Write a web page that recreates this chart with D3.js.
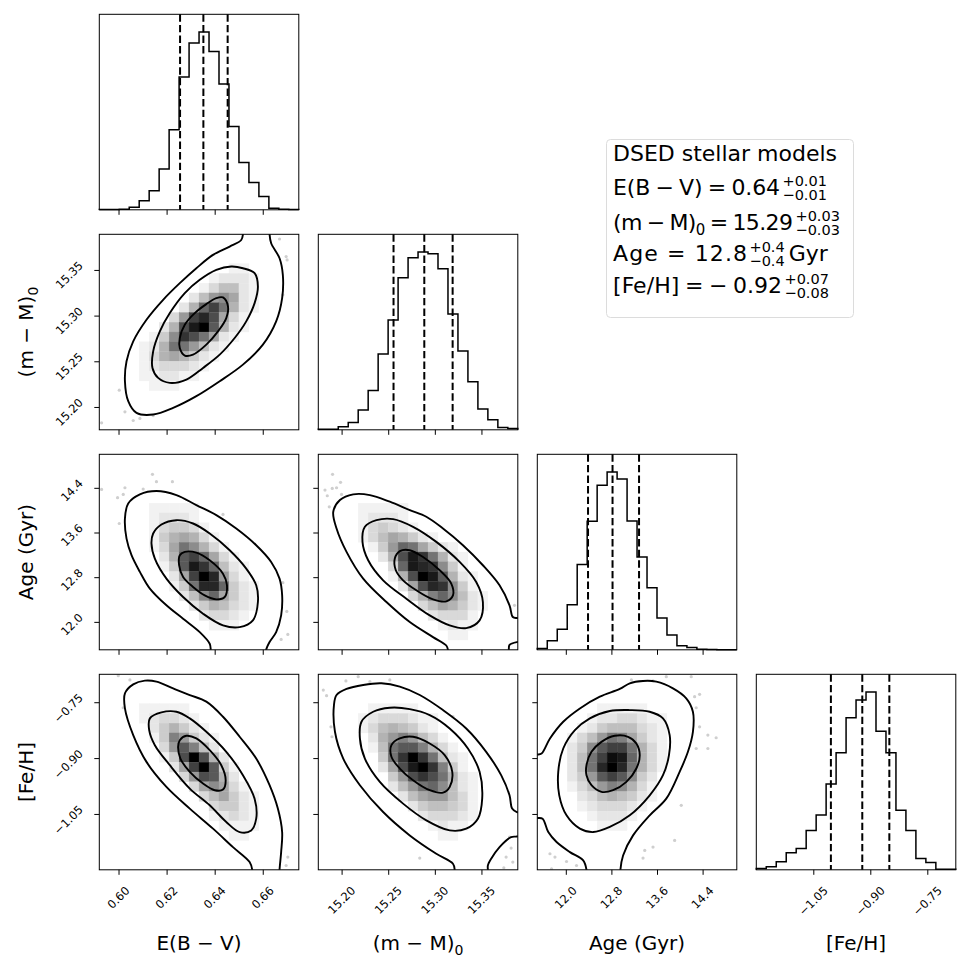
<!DOCTYPE html>
<html><head><meta charset="utf-8">
<script src="https://cdn.jsdelivr.net/npm/d3@7"></script>
<style>
body{margin:0;background:#fff}
svg{display:block}
text{font-family:"DejaVu Sans",sans-serif;fill:#000}
</style>
</head><body>
<svg id="c" width="969" height="969"></svg>
<script>
// ---------------- DATA ----------------
const rangeEBV = [0.592, 0.675];
const rangeDM  = [15.175, 15.389];
const rangeAge = [11.5, 15.0];
const rangeFeH = [-1.2, -0.675];

const ticksEBV = [0.60, 0.62, 0.64, 0.66];
const ticksDM  = [15.20, 15.25, 15.30, 15.35];
const ticksAge = [12.0, 12.8, 13.6, 14.4];
const ticksFeH = [-1.05, -0.90, -0.75];
const tickLabelsEBV = ["0.60","0.62","0.64","0.66"];
const tickLabelsDM  = ["15.20","15.25","15.30","15.35"];
const tickLabelsAge = ["12.0","12.8","13.6","14.4"];
const tickLabelsFeH = ["\u22121.05","\u22120.90","\u22120.75"];

// 1-D histogram counts (20 bins across each range)
const histEBV = [1,1,2,8,27,57,122,240,398,500,533,475,377,250,142,82,40,5,2,1];
const histDM  = [2,2,9,22,59,118,227,329,455,515,532,527,482,347,236,144,62,30,7,4];
const histAge = [4,27,61,134,254,383,491,530,509,384,277,185,95,44,12,7,2,1,0,0];
const histFeH = [4,9,24,51,64,118,164,257,350,455,508,532,415,350,178,118,34,22,2,2];

// 16/50/84 % quantiles
const quantEBV = [0.6256, 0.6353, 0.6454];
const quantDM  = [15.2557, 15.2887, 15.3191];
const quantAge = [12.39, 12.82, 13.285];
const quantFeH = [-1.0037, -0.9211, -0.8499];

// 2-D density grids, 20x20, rows from top; char value = parseInt(c,36)/20 of the peak
const densDM_EBV = [
"00000000000000000000","00000000000000000000","00000000000000000000","00000000000001100000",
"00000000000122210000","00000000001355210000","00000000025897210000","0000000026cfb6210000",
"000000038fhe73100000","00000026eikd62100000","00000149geb721000000","0000126bb85210000000",
"00001367642100000000","00001233321000000000","00001122110000000000","00000111000000000000",
"00000000000000000000","00000000000000000000","00000000000000000000","00000000000000000000"];
const densAge_EBV = [
"00000000000000000000","00000000000000000000","00000000000000000000","00000000000000000000",
"00000000000000000000","00000111110000000000","00000122210000000000","00000134431000000000",
"00000146763100000000","00000137b96310000000","00000026dfc731000000","00000014digc52100000",
"000000027fkh83100000","000000014bhhc4210000","00000000259c74210000","00000000024653210000",
"00000000002332100000","00000000000111000000","00000000000000000000","00000000000000000000"];
const densAge_DM = [
"00000000000000000000","00000000000000000000","00000000000000000000","00000000000000000000",
"00000000000000000000","00001111100000000000","00001222100000000000","00001343210000000000",
"00001357642100000000","00000148cb7421000000","00000026eigb62100000","00000003cihg94100000",
"000000016ekid6210000","0000000027ehg9410000","00000000036ac9521000","00000000003576421000",
"00000000000233310000","00000000000012110000","00000000000001100000","00000000000000000000"];
const densFeH_EBV = [
"00000000000000000000","00000000000000000000","00000000000000000000","00001111100000000000",
"00001233210000000000","00000246421000000000","0000014a842100000000","00000038da5200000000",
"00000014eke620000000","000000027fkd41000000","0000000038ed62000000","00000000037973100000",
"00000000003574210000","00000000000344210000","00000000000123210000","00000000000011110000",
"00000000000001100000","00000000000000000000","00000000000000000000","00000000000000000000"];
const densFeH_DM = [
"00000000000000000000","00000000000000000000","00000000000000000000","00000111110000000000",
"00001233321100000000","00001356542100000000","00000268a85310000000","0000015bdda631000000",
"0000004bgkgb52100000","00000027eikga4100000","000000048egeb6210000","0000000258bc95210000",
"00000000257885310000","00000000024554310000","00000000002333210000","00000000000121100000",
"00000000000011000000","00000000000000000000","00000000000000000000","00000000000000000000"];
const densFeH_Age = [
"00000000000000000000","00000000000000000000","00000000000000000000","00000011111000000000",
"00000122332110000000","00001245553210000000","0001358ba74210000000","000249dffb6310000000",
"00025bfjic6310000000","00025bhkhb6310000000","000248dfd94200000000","0001358a963100000000",
"00002356542100000000","00001233321000000000","00000122210000000000","00000011100000000000",
"00000000000000000000","00000000000000000000","00000000000000000000","00000000000000000000"];

// contour vertices in bin units [column, row-from-top] (0..20)
const contoursDM_EBV = [
 {closed:true, pts:[[12.4,6.46],[12.9,7.38],[12.73,8.57],[11.9,9.93],[10.73,11.29],[9.4,12.31],[8.57,12.41],[8.07,11.63],[8.07,10.61],[8.57,9.25],[9.57,8.06],[10.73,7.14],[11.73,6.53]]},
 {closed:true, pts:[[14.4,3.47],[15.57,3.98],[15.9,5.34],[15.57,7.04],[14.73,8.91],[13.57,10.61],[12.07,12.31],[10.4,13.67],[8.73,14.86],[7.07,15.2],[5.9,14.69],[5.33,13.67],[5.4,11.97],[6.07,9.93],[7.07,8.06],[8.57,6.02],[10.07,4.66],[11.73,3.64],[13.23,3.3]]},
 {closed:false, pts:[[14.4,-0.5],[14.4,0],[14.23,0.58],[13.07,1.26],[11.4,2.11],[9.73,3.47],[8.07,5.0],[6.4,6.7],[4.73,8.74],[3.4,10.95],[2.73,12.99],[2.57,15.03],[2.9,17.07],[3.73,18.27],[5.4,18.44],[7.4,17.76],[9.73,16.56],[12.07,15.03],[14.4,13.33],[16.4,11.29],[17.73,8.91],[18.33,6.53],[18.4,4.15],[18.07,2.45],[17.23,0.92],[17.07,0],[17.07,-0.5]]}
];
const contoursAge_EBV = [
 {closed:true, pts:[[8.07,10.32],[8.57,9.98],[9.73,10.05],[11.07,10.84],[12.4,12.21],[12.8,13.4],[12.57,14.6],[11.73,14.84],[10.57,14.43],[9.4,13.57],[8.4,12.55],[8.0,11.35]]},
 {closed:true, pts:[[5.4,8.1],[6.23,7.18],[7.73,6.74],[9.4,7.08],[11.07,8.1],[13.07,9.81],[14.73,11.69],[15.73,13.4],[15.9,15.11],[15.4,16.99],[14.07,17.68],[12.4,17.5],[10.4,16.31],[8.4,14.6],[6.73,12.72],[5.57,10.67],[5.23,9.13]]},
 {closed:false, pts:[[11.17,20.5],[11.17,20],[11.07,19.38],[10.07,18.19],[8.4,16.82],[6.73,15.45],[5.07,13.74],[4.07,12.03],[3.23,10.32],[2.73,8.62],[2.57,6.56],[2.9,5.03],[4.07,4.1],[5.73,3.76],[7.73,4.17],[9.73,5.2],[11.73,6.22],[13.73,7.59],[15.73,9.3],[17.23,11.01],[18.07,12.72],[18.33,14.43],[18.23,16.48],[17.73,18.19],[17.07,19.21],[16.73,20],[16.73,20.5]]}
];
const contoursAge_DM = [
 {closed:true, pts:[[7.67,10.67],[8.17,9.91],[9.17,9.81],[10.5,10.5],[12.17,11.86],[13.33,13.23],[13.5,14.43],[12.83,15.04],[11.5,14.84],[9.83,13.91],[8.5,12.89],[7.77,11.86]]},
 {closed:true, pts:[[4.67,7.42],[5.83,6.74],[7.5,6.63],[9.5,7.42],[11.83,8.96],[14.17,11.01],[15.83,13.06],[16.5,15.11],[16.17,16.99],[14.83,17.78],[13.17,17.5],[11.17,16.48],[8.83,14.77],[6.5,12.89],[5.0,10.84],[4.43,8.96]]},
 {closed:false, pts:[[13.0,20.5],[13.0,20],[12.83,19.56],[11.5,18.7],[9.17,17.16],[6.83,15.11],[4.5,12.72],[2.83,9.98],[1.83,7.59],[1.5,5.88],[2.17,4.68],[3.5,4.1],[5.17,4.17],[7.17,4.85],[9.17,5.71],[10.83,6.39],[12.5,7.59],[14.5,9.3],[16.5,11.35],[18.17,13.4],[19.17,15.45],[19.5,16.65],[19.9,16.75],[20.5,16.75]]},
 {closed:false, pts:[[20.5,19.2],[19.9,19.21],[19.17,19.5],[19.1,20],[19.1,20.5]]}
];
const contoursFeH_EBV = [
 {closed:true, pts:[[8.07,6.74],[8.73,6.29],[9.73,6.56],[11.07,7.76],[12.23,9.3],[12.67,10.84],[12.4,11.79],[11.57,11.86],[10.4,11.18],[9.07,9.98],[8.13,8.62],[7.9,7.42]]},
 {closed:true, pts:[[5.07,4.51],[6.23,3.9],[7.73,3.83],[9.07,4.51],[10.73,5.88],[12.73,7.93],[14.4,10.32],[15.57,12.72],[15.73,14.77],[15.23,15.97],[14.07,16.14],[12.73,15.11],[11.07,13.4],[9.07,11.69],[7.07,9.3],[5.57,7.25],[5.0,5.71]]},
 {closed:false, pts:[[15.33,20.5],[15.33,20],[15.07,19.21],[13.4,17.68],[11.4,15.79],[9.07,13.74],[6.73,11.52],[4.73,8.96],[3.4,6.22],[2.57,3.49],[2.57,1.95],[3.4,1.03],[4.57,0.65],[5.73,0.75],[7.4,1.44],[9.07,2.12],[10.73,2.8],[12.4,4.34],[14.07,6.39],[15.73,8.62],[17.07,11.35],[17.9,13.74],[18.33,16.14],[18.23,18.19],[18.07,20],[18.07,20.5]]}
];
const contoursFeH_DM = [
 {closed:true, pts:[[7.33,7.25],[8.17,6.56],[9.5,6.39],[11.17,7.08],[12.67,8.27],[13.43,9.98],[13.17,11.52],[12.5,12.1],[11.17,11.86],[9.5,10.84],[8.17,9.64],[7.33,8.44]]},
 {closed:true, pts:[[4.33,4.85],[5.5,3.83],[7.17,3.42],[9.17,3.56],[11.17,4.17],[13.17,5.54],[15.0,7.59],[16.17,9.98],[16.43,12.72],[16.0,14.77],[14.83,15.79],[13.17,15.97],[10.83,14.94],[8.5,13.23],[6.17,11.01],[4.67,8.62],[4.17,6.56]]},
 {closed:false, pts:[[13.67,20.5],[13.67,20],[13.5,19.38],[11.83,18.36],[9.17,16.48],[6.5,14.09],[4.17,11.35],[2.5,8.62],[1.67,5.88],[1.57,3.15],[1.83,2.12],[2.83,1.5],[4.5,1.09],[6.33,0.92],[8.17,1.26],[10.17,2.12],[12.5,3.66],[14.83,5.54],[16.83,7.93],[18.33,10.32],[19.17,12.38],[19.43,13.74],[19.9,14.09],[20.5,14.09]]},
 {closed:false, pts:[[20.5,16.5],[19.9,16.6],[19.33,16.65],[18.17,17.68],[17.33,18.87],[17.0,19.56],[17.0,20],[17.0,20.5]]}
];
const contoursFeH_Age = [
 {closed:true, pts:[[4.93,9.3],[5.43,7.93],[6.43,6.91],[7.77,6.29],[9.1,6.39],[9.93,7.08],[10.27,8.27],[9.93,9.64],[8.93,11.01],[7.6,11.86],[6.43,12.03],[5.43,11.35],[4.93,10.32]]},
 {closed:true, pts:[[2.1,9.98],[2.6,7.59],[3.77,5.71],[5.27,4.51],[7.27,3.76],[9.27,3.66],[11.27,3.83],[12.6,4.51],[13.27,6.22],[13.2,8.27],[12.6,10.32],[11.27,12.38],[9.27,14.43],[7.27,15.62],[5.6,16.14],[4.27,15.79],[2.93,14.43],[2.2,12.38]]},
 {closed:false, pts:[[-0.5,8.21],[0,8.21],[0.43,8.1],[1.27,6.56],[2.6,4.85],[4.27,3.49],[6.27,2.29],[8.27,1.5],[9.27,0.92],[10.6,0.68],[11.93,0.75],[13.6,1.44],[14.93,2.46],[15.6,3.83],[15.6,5.88],[15.1,7.93],[14.27,9.98],[12.93,12.72],[11.27,14.43],[9.6,16.48],[8.6,18.53],[8.33,20],[8.33,20.5]]},
 {closed:false, pts:[[-0.5,14.7],[0,14.7],[0.53,14.77],[1.1,16.14],[1.93,17.16],[3.27,18.19],[4.6,19.04],[4.93,20],[4.93,20.5]]}
];

// outlying samples, bin units
const dotsDM_EBV = [[18.07,0.48],[18.73,2.28],[18.83,2.62],[18.4,6.19],[2.0,15.95],[2.57,18.16],[3.4,19.05],[4.07,18.84],[5.4,18.54],[0.23,19.29]];
const dotsAge_EBV = [[0.23,3.59],[1.83,4.44],[2.4,4.1],[2.57,3.42],[4.4,3.56],[5.33,2.05],[5.73,2.8],[7.33,2.8],[2.0,7.08],[12.4,6.15],[18.4,13.13],[18.8,16.07],[18.9,18.43],[18.23,18.94]];
const dotsAge_DM = [[0.67,3.66],[0.9,4.24],[1.4,3.49],[1.83,3.42],[2.23,2.87],[1.43,2.05],[1.1,5.37],[2.33,4.1],[19.67,15.45]];
const dotsFeH_EBV = [[1.9,0.14],[3.07,0.58],[2.4,3.42],[18.9,18.7],[18.73,19.56]];
const dotsFeH_DM = [[0.5,1.61],[0.83,2.19],[2.77,0.68],[4.0,0.24],[5.17,0.75],[7.17,0.58],[1.27,5.37],[1.37,6.39],[13.5,4.34],[10.17,18.8],[19.17,16.65],[19.33,17.78],[18.83,18.7],[18.6,19.79],[19.5,19.21]];
const dotsFeH_Age = [[9.43,0.58],[11.6,0.68],[12.93,0.24],[15.43,0.24],[16.27,2.05],[15.77,2.29],[15.93,3.42],[16.27,5.37],[17.1,6.22],[17.93,6.49],[15.93,7.59],[17.1,7.59],[14.43,13.4],[13.77,16.99],[11.6,17.68],[10.77,18.02],[10.6,18.8],[1.27,18.36],[1.77,18.7],[1.43,19.9],[2.93,19.15],[3.93,19.56]];

const SP = "\u2005";
const legendTitle = "DSED stellar models";
const legendRows = [
  {main:`E(B${SP}\u2212${SP}V)${SP}=${SP}0.64`, sup:"+0.01", sub:"\u22120.01", tail:""},
  {main:`(m${SP}\u2212${SP}M)`, mainSub:"0", main2:`${SP}=${SP}15.29`, sup:"+0.03", sub:"\u22120.03", tail:""},
  {main:"Age = 12.8", sup:"+0.4", sub:"\u22120.4", tail:"Gyr"},
  {main:`[Fe/H]${SP}=${SP}\u2212${SP}0.92`, sup:"+0.07", sub:"\u22120.08", tail:""}
];

// ---------------- LAYOUT ----------------
const L0=99.3, T0=14.3, DX=219, DY=220, PW=199.5, PH=195.5;
const vars = [
  {range:rangeEBV, ticks:ticksEBV, labels:tickLabelsEBV, hist:histEBV, q:quantEBV, name:[["E(B \u2212 V)"]]},
  {range:rangeDM,  ticks:ticksDM,  labels:tickLabelsDM,  hist:histDM,  q:quantDM,  name:[["(m \u2212 M)"],["0","sub"]]},
  {range:rangeAge, ticks:ticksAge, labels:tickLabelsAge, hist:histAge, q:quantAge, name:[["Age (Gyr)"]]},
  {range:rangeFeH, ticks:ticksFeH, labels:tickLabelsFeH, hist:histFeH, q:quantFeH, name:[["[Fe/H]"]]}
];
const pairs = [
  {row:1,col:0,dens:densDM_EBV, cont:contoursDM_EBV, dots:dotsDM_EBV},
  {row:2,col:0,dens:densAge_EBV,cont:contoursAge_EBV,dots:dotsAge_EBV},
  {row:2,col:1,dens:densAge_DM, cont:contoursAge_DM, dots:dotsAge_DM},
  {row:3,col:0,dens:densFeH_EBV,cont:contoursFeH_EBV,dots:dotsFeH_EBV},
  {row:3,col:1,dens:densFeH_DM, cont:contoursFeH_DM, dots:dotsFeH_DM},
  {row:3,col:2,dens:densFeH_Age,cont:contoursFeH_Age,dots:dotsFeH_Age}
];

const svg = d3.select("#c");
const defs = svg.append("defs");
const TICKFS = 11.5, LABELFS = 20, LEGFS = 22, SUPFS = 14.5;
const binX = (r,u)=> r[0] + u*(r[1]-r[0])/20;
const binY = (r,v)=> r[1] - v*(r[1]-r[0])/20;

for (let i=0;i<4;i++) for (let j=0;j<=i;j++){
  const x0=L0+DX*j, y0=T0+DY*i;
  const g = svg.append("g").attr("transform",`translate(${x0},${y0})`);
  const vx = vars[j];
  const xs = d3.scaleLinear().domain(vx.range).range([0,PW]);
  let ys;
  if (i===j){
    const mx = d3.max(vx.hist);
    ys = d3.scaleLinear().domain([0,1.1*mx]).range([PH,0]);
    const pts=[[binX(vx.range,0),0]];
    vx.hist.forEach((c,k)=>{pts.push([binX(vx.range,k),c]);pts.push([binX(vx.range,k+1),c]);});
    pts.push([binX(vx.range,20),0]);
    g.append("path").attr("d",d3.line().x(d=>xs(d[0])).y(d=>ys(d[1]))(pts))
      .attr("fill","none").attr("stroke","#000").attr("stroke-width",1.5).attr("stroke-linejoin","miter");
    vx.q.forEach(q=>g.append("line").attr("x1",xs(q)).attr("x2",xs(q)).attr("y1",0).attr("y2",PH)
      .attr("stroke","#000").attr("stroke-width",2).attr("stroke-dasharray","7.4,3.2"));
  } else {
    const vy = vars[i];
    ys = d3.scaleLinear().domain(vy.range).range([PH,0]);
    const p = pairs.find(p=>p.row===i&&p.col===j);
    const cid = `clip${i}${j}`;
    defs.append("clipPath").attr("id",cid).append("rect").attr("width",PW).attr("height",PH);
    const inner = g.append("g").attr("clip-path",`url(#${cid})`);
    inner.selectAll("circle").data(p.dots).join("circle")
      .attr("cx",d=>xs(binX(vx.range,d[0]))).attr("cy",d=>ys(binY(vy.range,d[1])))
      .attr("r",1.6).attr("fill","#cfcfcf");
    const cells=[];
    p.dens.forEach((row,r)=>row.split("").forEach((ch,c)=>{
      const v=parseInt(ch,36)/20; if(v>0) cells.push({r,c,v});
    }));
    const grey = d=>{const k=Math.round(255*(1-d.v));return `rgb(${k},${k},${k})`;};
    inner.selectAll("rect.cell").data(cells).join("rect").attr("class","cell")
      .attr("x",d=>xs(binX(vx.range,d.c))).attr("y",d=>ys(binY(vy.range,d.r)))
      .attr("width",d=>xs(binX(vx.range,d.c+1))-xs(binX(vx.range,d.c)))
      .attr("height",d=>ys(binY(vy.range,d.r+1))-ys(binY(vy.range,d.r)))
      .attr("fill",grey).attr("stroke",grey).attr("stroke-width",0.3);
    p.cont.forEach(ct=>{
      const ln = d3.line().x(d=>xs(binX(vx.range,d[0]))).y(d=>ys(binY(vy.range,d[1])))
        .curve(ct.closed?d3.curveCatmullRomClosed.alpha(0.5):d3.curveCatmullRom.alpha(0.5));
      inner.append("path").attr("d",ln(ct.pts)).attr("fill","none").attr("stroke","#000").attr("stroke-width",1.9);
    });
  }
  // frame
  g.append("rect").attr("width",PW).attr("height",PH).attr("fill","none").attr("stroke","#000").attr("stroke-width",1);
  // x ticks
  const xa = g.append("g").attr("transform",`translate(0,${PH})`)
    .call(d3.axisBottom(xs).tickValues(vx.ticks).tickSize(5).tickFormat(""));
  xa.select(".domain").remove();
  xa.selectAll("line").attr("stroke","#000");
  if (i===3){
    vx.ticks.forEach((t,k)=>{
      const tx = g.append("text").attr("font-size",TICKFS).attr("text-anchor","middle")
        .attr("dominant-baseline","central").text(vx.labels[k]);
      const L = tx.node().getComputedTextLength();
      const s = (L+TICKFS)/(2*Math.SQRT2);
      const cx = xs(t), cy = PH+14.7+s;
      tx.attr("x",cx).attr("y",cy).attr("transform",`rotate(-45,${cx},${cy})`);
    });
  }
  if (i!==j){
    const vy = vars[i];
    const ya = g.append("g").call(d3.axisLeft(ys).tickValues(vy.ticks).tickSize(5).tickFormat(""));
    ya.select(".domain").remove();
    ya.selectAll("line").attr("stroke","#000");
    if (j===0){
      vy.ticks.forEach((t,k)=>{
        const tx = g.append("text").attr("font-size",TICKFS).attr("text-anchor","middle")
          .attr("dominant-baseline","central").text(vy.labels[k]);
        const L = tx.node().getComputedTextLength();
        const s = (L+TICKFS)/(2*Math.SQRT2);
        const cx = -14.3 - s, cy = ys(t) - 10.5 + s;
        tx.attr("x",cx).attr("y",cy).attr("transform",`rotate(-45,${cx},${cy})`);
      });
    }
  }
}

// axis labels
function addLabel(sel, parts){
  parts.forEach(pt=>{
    if (pt[1]==="sub") sel.append("tspan").attr("font-size",14).attr("dy",5).text(pt[0]);
    else sel.append("tspan").text(pt[0]);
  });
}
vars.forEach((v,j)=>{
  const t = svg.append("text").attr("x",L0+DX*j+PW/2).attr("y",950).attr("font-size",LABELFS).attr("text-anchor","middle");
  addLabel(t, v.name);
});
for (let i=1;i<4;i++){
  const cy = T0+DY*i+PH/2, cx = 33;
  const t = svg.append("text").attr("x",cx).attr("y",cy).attr("font-size",LABELFS).attr("text-anchor","middle")
    .attr("transform",`rotate(-90,${cx},${cy})`);
  addLabel(t, vars[i].name);
}

// legend box
const lg = svg.append("g");
lg.append("rect").attr("x",606.5).attr("y",139.5).attr("width",247).attr("height",178).attr("rx",4)
  .attr("fill","#fff").attr("stroke","#dcdcdc").attr("stroke-width",1);
lg.append("text").attr("x",613).attr("y",161).attr("font-size",LEGFS).text(legendTitle);
const baselines = [195, 230, 261, 293];
const mainWidths = [167, 180, 134, 169];
legendRows.forEach((r,k)=>{
  const y = baselines[k];
  const t = lg.append("text").attr("x",613).attr("y",y).attr("font-size",LEGFS)
    .attr("textLength",mainWidths[k]).attr("lengthAdjust","spacing");
  t.append("tspan").text(r.main);
  if (r.mainSub){
    t.append("tspan").attr("font-size",15).attr("dy",5).text(r.mainSub);
    t.append("tspan").attr("dy",-5).text(r.main2);
  }
  const sx = 613 + mainWidths[k] + 2.5;
  const sup = lg.append("text").attr("x",sx).attr("y",y-9.5).attr("font-size",SUPFS).text(r.sup);
  const sub = lg.append("text").attr("x",sx).attr("y",y+5).attr("font-size",SUPFS).text(r.sub);
  const sw = Math.max(sup.node().getComputedTextLength(), sub.node().getComputedTextLength());
  if (r.tail) lg.append("text").attr("x",sx+sw+4).attr("y",y).attr("font-size",LEGFS).text(r.tail);
});
</script>
</body></html>
